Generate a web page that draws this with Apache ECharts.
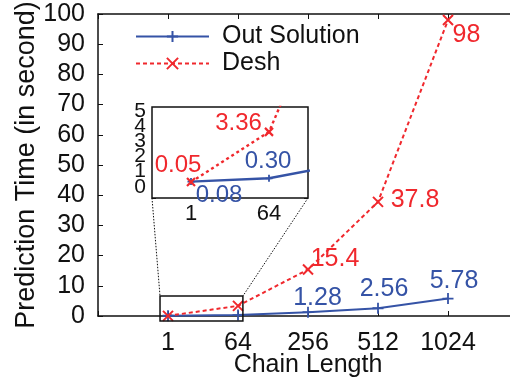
<!DOCTYPE html>
<html>
<head>
<meta charset="utf-8">
<script src="https://cdn.jsdelivr.net/npm/echarts@6/dist/echarts.min.js"></script>
<style>
  html, body { margin: 0; padding: 0; background: #fff; }
  #chart { width: 510px; height: 383px; }
</style>
</head>
<body>
<div id="chart"></div>
<script>
// Prediction time (seconds) against chain length
const chainLengths = ['1', '64', '256', '512', '1024'];
const ourTimes = [0.08, 0.30, 1.28, 2.56, 5.78];
const deshTimes = [0.05, 3.36, 15.4, 37.8, 98];
const seriesNames = ['Out Solution', 'Desh'];
// inset time ticks, split in two alternating sets so the tightly packed labels all show
const insetTicksEven = [0, 2, 4];
const insetTicksOdd = [1, 3, 5];

// magnified window: chain index range and time range (seconds)
const zoomIndexRange = [0.886, 2.07];
const zoomTimeRange = [-1.66, 6.6];

const FONT = 'Liberation Sans, Arial, sans-serif';
const BLUE = '#3553a6';
const RED = '#f0282d';
const INK = '#111';

const plusPath = 'path://M0,-1L0,1M-1,0L1,0';
const crossPath = 'path://M-1,-1L1,1M-1,1L1,-1';

// label placement (offset from the point, text centred) per chart
const mainBlueOffsets = [null, null, [9.5, -14.5], [6, -19], [6, -17.5]];
const mainRedOffsets = [null, null, [27, -10.5], [37, -2], [18.5, 15]];
const insetBlueOffsets = [[28, 14], [-1, -16.5], null, null, null];
const insetRedOffsets = [[-13, -17], [-30.5, -8], null, null, null];

function fmtOur(v) { return v.toFixed(2); }
function fmtDesh(v) { return String(v); }

function points(values, offsets, color, fontSize, fmt) {
  return values.map((v, i) => {
    const off = offsets[i];
    return {
      value: [i + 1, v],
      label: off ? {
        show: true, position: 'inside', offset: off,
        align: 'center', verticalAlign: 'middle',
        formatter: fmt(v), color: color, fontSize: fontSize, fontFamily: FONT
      } : { show: false }
    };
  });
}

function insetTimeAxis(ticks) {
  return {
    gridIndex: 1, type: 'value', min: -1, max: 5, interval: 1, position: 'left',
    axisLine: { show: false },
    axisTick: { inside: true, length: 4, lineStyle: { color: INK } },
    axisLabel: { fontSize: 21, color: INK, margin: 6, fontFamily: FONT,
      customValues: ticks, hideOverlap: false, verticalAlign: 'top', lineHeight: 8,
      formatter: v => String(v) },
    splitLine: { show: false }
  };
}

const chart = echarts.init(document.getElementById('chart'));

const axisLine = { show: true, lineStyle: { color: INK, width: 1.5 } };

chart.setOption({
  animation: false,
  backgroundColor: '#fff',
  textStyle: { fontFamily: FONT },
  grid: [
    { left: 98, top: 14, width: 420, height: 302, show: false,
      containLabel: false, outerBoundsMode: 'none' },
    { left: 152, top: 107, width: 156, height: 91, show: true,
      containLabel: false, outerBoundsMode: 'none',
      backgroundColor: '#fff', borderColor: INK, borderWidth: 1.5, z: 5 }
  ],
  legend: {
    orient: 'vertical', left: 130, top: 19,
    itemWidth: 73, itemHeight: 14, itemGap: 2,
    data: seriesNames,
    textStyle: { fontSize: 25, color: INK, fontFamily: FONT, padding: [0, 0, 0, 8] }
  },
  xAxis: [
    {
      gridIndex: 0, type: 'value', min: 0, max: 6, interval: 1, position: 'bottom',
      axisLine: axisLine,
      axisTick: { inside: true, length: 5, lineStyle: { color: INK } },
      axisLabel: { fontSize: 25, color: INK, margin: 15, fontFamily: FONT,
        formatter: v => chainLengths[v - 1] || '' },
      splitLine: { show: false },
      name: 'Chain Length', nameLocation: 'middle', nameGap: 37, nameMoveOverlap: false,
      nameTextStyle: { fontSize: 25, color: INK, fontFamily: FONT }
    },
    {
      gridIndex: 0, type: 'value', min: 0, max: 6, interval: 1, position: 'top',
      axisLine: axisLine,
      axisTick: { inside: true, length: 5, lineStyle: { color: INK } },
      axisLabel: { show: false }, splitLine: { show: false }
    },
    {
      gridIndex: 1, type: 'value', min: 0.5, max: 2.5, position: 'bottom',
      axisLine: { show: false },
      axisTick: { inside: true, length: 4, customValues: [1, 2], lineStyle: { color: INK } },
      axisLabel: { fontSize: 22, color: INK, margin: 5, fontFamily: FONT, customValues: [1, 2],
        formatter: v => chainLengths[v - 1] || '' },
      splitLine: { show: false }
    },
    {
      gridIndex: 1, type: 'value', min: 0.5, max: 2.5, position: 'top',
      axisLine: { show: false },
      axisTick: { inside: true, length: 4, customValues: [1, 2], lineStyle: { color: INK } },
      axisLabel: { show: false }, splitLine: { show: false }
    }
  ],
  yAxis: [
    {
      gridIndex: 0, type: 'value', min: 0, max: 100, interval: 10,
      axisLine: axisLine,
      axisTick: { inside: true, length: 5, lineStyle: { color: INK } },
      axisLabel: { fontSize: 25, color: INK, margin: 13, fontFamily: FONT },
      splitLine: { show: false },
      name: 'Prediction Time (in second)', nameLocation: 'middle', nameGap: 58,
      nameMoveOverlap: false,
      nameTextStyle: { fontSize: 27, color: INK, fontFamily: FONT }
    },
    insetTimeAxis(insetTicksEven),
    insetTimeAxis(insetTicksOdd),
    {
      gridIndex: 1, type: 'value', min: -1, max: 5, interval: 1, position: 'right',
      axisLine: { show: false },
      axisTick: { inside: true, length: 4, lineStyle: { color: INK } },
      axisLabel: { show: false }, splitLine: { show: false }
    }
  ],
  series: [
    {
      name: seriesNames[0], type: 'line', xAxisIndex: 0, yAxisIndex: 0,
      data: points(ourTimes, mainBlueOffsets, BLUE, 25, fmtOur),
      symbol: plusPath, symbolSize: 11,
      lineStyle: { color: BLUE, width: 2 },
      itemStyle: { color: BLUE, borderColor: BLUE, borderWidth: 1.8 },
      z: 3
    },
    {
      name: seriesNames[1], type: 'line', xAxisIndex: 0, yAxisIndex: 0,
      data: points(deshTimes, mainRedOffsets, RED, 25, fmtDesh),
      symbol: crossPath, symbolSize: 10,
      lineStyle: { color: RED, width: 2, type: [4, 3] },
      itemStyle: { color: RED, borderColor: RED, borderWidth: 2 },
      z: 3
    },
    {
      name: seriesNames[0], type: 'line', xAxisIndex: 2, yAxisIndex: 1,
      data: points(ourTimes, insetBlueOffsets, BLUE, 24, fmtOur),
      symbol: plusPath, symbolSize: 7, clip: true,
      lineStyle: { color: BLUE, width: 2.4 },
      itemStyle: { color: BLUE, borderColor: BLUE, borderWidth: 1.8 },
      z: 6
    },
    {
      name: seriesNames[1], type: 'line', xAxisIndex: 2, yAxisIndex: 1,
      data: points(deshTimes, insetRedOffsets, RED, 24, fmtDesh),
      symbol: crossPath, symbolSize: 8, clip: true,
      lineStyle: { color: RED, width: 2.4, type: [3, 3] },
      itemStyle: { color: RED, borderColor: RED, borderWidth: 2.2 },
      z: 6
    }
  ]
});

// outline of the magnified window and dotted leaders to the inset
const boxTL = chart.convertToPixel({ xAxisIndex: 0, yAxisIndex: 0 }, [zoomIndexRange[0], zoomTimeRange[1]]);
const boxBR = chart.convertToPixel({ xAxisIndex: 0, yAxisIndex: 0 }, [zoomIndexRange[1], zoomTimeRange[0]]);
const insetBL = chart.convertToPixel({ xAxisIndex: 2, yAxisIndex: 1 }, [0.5, -1]);
const insetBR = chart.convertToPixel({ xAxisIndex: 2, yAxisIndex: 1 }, [2.5, -1]);

chart.setOption({
  graphic: [
    { type: 'rect', z: 10,
      shape: { x: boxTL[0], y: boxTL[1], width: boxBR[0] - boxTL[0], height: boxBR[1] - boxTL[1] },
      style: { fill: 'none', stroke: INK, lineWidth: 1.5 } },
    { type: 'line', z: 10,
      shape: { x1: insetBL[0], y1: insetBL[1], x2: boxTL[0], y2: boxTL[1] },
      style: { stroke: INK, lineWidth: 1, lineDash: [1.5, 1.5] } },
    { type: 'line', z: 10,
      shape: { x1: insetBR[0], y1: insetBR[1], x2: boxBR[0], y2: boxTL[1] },
      style: { stroke: INK, lineWidth: 1, lineDash: [1.5, 1.5] } }
  ]
});
</script>
</body>
</html>
